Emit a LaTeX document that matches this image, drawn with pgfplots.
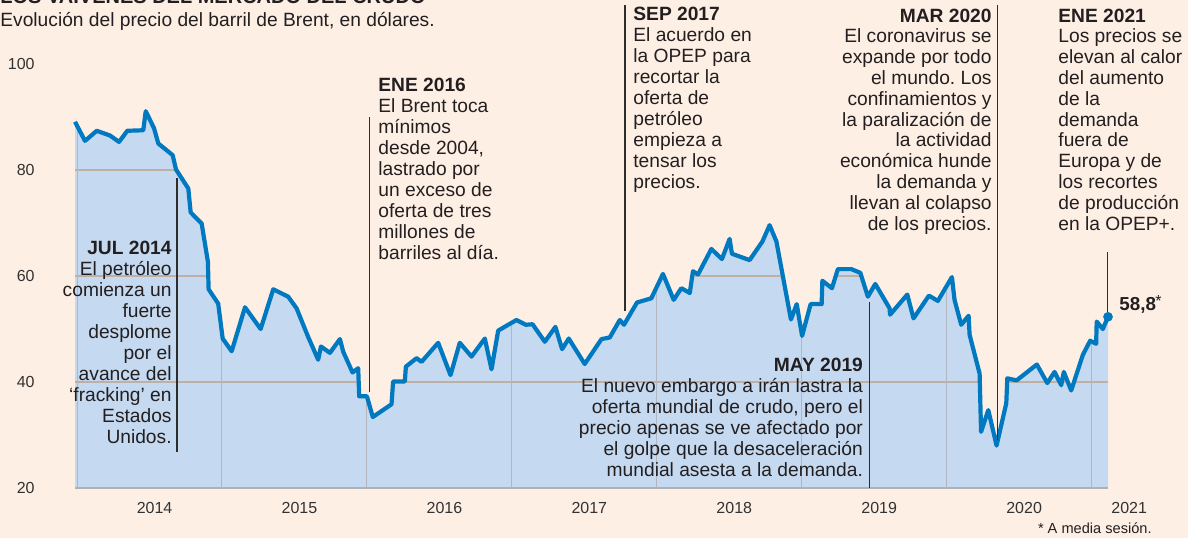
\documentclass[border=0pt]{standalone}
\usepackage{fontspec}
\setmainfont{Liberation Sans}
\usepackage{pgfplots}
\usepackage{pgfplotstable}
\pgfplotsset{compat=1.18}
\frenchspacing
\definecolor{bg}{RGB}{254,239,229}
\definecolor{areac}{RGB}{197,217,240}
\definecolor{curvec}{RGB}{0,121,193}
\definecolor{txt}{RGB}{35,31,32}
\definecolor{ticktxt}{RGB}{50,50,50}
\definecolor{hgrid}{RGB}{192,176,164}
\definecolor{vgrid}{RGB}{178,182,192}
\definecolor{axisgray}{RGB}{175,175,180}
\definecolor{annline}{RGB}{45,45,45}

\pgfplotstableread{
x y
2013.986 89.1
2014.055 85.5
2014.136 87.4
2014.228 86.5
2014.290 85.3
2014.347 87.4
2014.457 87.5
2014.474 91.1
2014.531 87.9
2014.561 85.0
2014.660 82.8
2014.683 80.1
2014.768 76.5
2014.784 72.0
2014.860 69.9
2014.903 62.7
2014.908 57.5
2014.974 54.8
2015.005 48.2
2015.067 45.8
2015.159 54.1
2015.267 50.0
2015.354 57.5
2015.457 56.1
2015.515 53.9
2015.595 48.5
2015.664 44.2
2015.683 46.7
2015.745 45.5
2015.814 48.1
2015.837 45.7
2015.901 41.8
2015.940 42.6
2015.947 37.3
2016.000 37.3
2016.041 33.4
2016.170 35.8
2016.181 40.1
2016.262 40.1
2016.269 42.9
2016.343 44.5
2016.377 43.8
2016.492 47.4
2016.577 41.3
2016.641 47.4
2016.722 44.8
2016.814 48.2
2016.860 42.4
2016.906 49.7
2017.032 51.7
2017.097 50.8
2017.143 50.9
2017.228 47.6
2017.301 50.4
2017.347 46.2
2017.393 48.2
2017.503 43.4
2017.619 48.1
2017.676 48.4
2017.745 51.7
2017.774 50.8
2017.864 55.0
2017.963 55.8
2018.043 60.4
2018.117 55.5
2018.170 57.7
2018.228 56.8
2018.250 60.9
2018.285 60.3
2018.377 65.1
2018.450 63.2
2018.503 67.0
2018.519 64.2
2018.641 63.0
2018.729 66.5
2018.779 69.6
2018.826 66.5
2018.926 51.8
2018.966 54.7
2019.003 48.7
2019.062 54.7
2019.138 54.7
2019.143 59.1
2019.209 57.7
2019.250 61.3
2019.343 61.3
2019.405 60.6
2019.457 56.1
2019.508 58.5
2019.607 53.9
2019.610 52.7
2019.729 56.5
2019.772 52.0
2019.878 56.3
2019.940 55.3
2020.037 59.8
2020.055 55.5
2020.101 50.8
2020.152 52.5
2020.159 48.9
2020.228 41.6
2020.238 30.6
2020.288 34.7
2020.345 28.0
2020.412 36.0
2020.419 40.7
2020.483 40.3
2020.623 43.3
2020.695 39.8
2020.745 41.9
2020.791 39.4
2020.809 41.9
2020.860 38.4
2020.940 45.1
2020.991 47.8
2021.032 47.2
2021.036 51.4
2021.078 50.0
2021.114 52.3
}\brent

\begin{document}
\begin{tikzpicture}[font=\fontsize{9.6}{10.5}\selectfont]
\fill[bg] (0,0) rectangle (594pt,269pt);
\useasboundingbox (0,0) rectangle (594pt,269pt);
\begin{axis}[
  scale only axis, width=516.5pt, height=212pt,
  at={(37.5pt,25pt)}, anchor=south west,
  xmin=2013.986, xmax=2021.114, ymin=20, ymax=100,
  clip=false,
  axis line style={draw=none},
  tick style={draw=none},
  major tick length=0pt, minor tick length=0pt,
  xtick={2014.535,2015.535,2016.535,2017.535,2018.535,2019.535,2020.535},
  xticklabels={2014,2015,2016,2017,2018,2019,2020},
  ytick={20,40,60,80,100},
  yticklabels={20,40,60,80,100},
  xticklabel style={font=\fontsize{8}{8}\selectfont, text=ticktxt, anchor=north, inner sep=0pt, yshift=-7pt},
  yticklabel style={font=\fontsize{8}{8}\selectfont, text=ticktxt, anchor=east, inner sep=0pt, xshift=-20pt},
]
% blue area
\addplot[fill=areac, draw=none] table[x=x,y=y]{\brent} -- (axis cs:2021.114,20) -- (axis cs:2013.986,20) -- cycle;
% grid
\draw[hgrid, line width=0.6pt] (axis cs:2013.986,40) -- (axis cs:2021.114,40);
\draw[hgrid, line width=0.6pt] (axis cs:2013.986,60) -- (axis cs:2021.114,60);
\draw[hgrid, line width=0.6pt] (axis cs:2013.986,80) -- (axis cs:2021.114,80);
\draw[vgrid, line width=0.5pt] (axis cs:2014,20) -- (axis cs:2014,99);
\draw[vgrid, line width=0.5pt] (axis cs:2015,20) -- (axis cs:2015,99);
\draw[vgrid, line width=0.5pt] (axis cs:2016,20) -- (axis cs:2016,99);
\draw[vgrid, line width=0.5pt] (axis cs:2017,20) -- (axis cs:2017,99);
\draw[vgrid, line width=0.5pt] (axis cs:2018,20) -- (axis cs:2018,99);
\draw[vgrid, line width=0.5pt] (axis cs:2019,20) -- (axis cs:2019,99);
\draw[vgrid, line width=0.5pt] (axis cs:2020,20) -- (axis cs:2020,99);
\draw[vgrid, line width=0.5pt] (axis cs:2021,20) -- (axis cs:2021,99);
% hide grid above the curve
\addplot[fill=bg, draw=none] table[x=x,y=y]{\brent} -- (axis cs:2021.114,100) -- (axis cs:2013.986,100) -- cycle;
% bottom axis line
\draw[axisgray, line width=0.8pt] (axis cs:2013.986,20) -- (axis cs:2021.114,20);
% curve
\addplot[curvec, line width=2.1pt, line join=round] table[x=x,y=y]{\brent};
\addplot[only marks, mark=*, mark size=2.2pt, curvec] coordinates {(2021.114,52.3)};
\node[font=\fontsize{8}{8}\selectfont, text=ticktxt, anchor=north, inner sep=0pt, yshift=-7pt] at (axis cs:2021.26,20) {2021};
\end{axis}

\begin{scope}[x=0.5pt, y=-0.5pt, shift={(0pt,269pt)}]
% title and subtitle
\node[anchor=base west, inner sep=0pt, text=txt, font=\fontsize{10}{10}\selectfont\bfseries] at (0,3) {LOS VAIVENES DEL MERCADO DEL CRUDO};
\node[anchor=base west, inner sep=0pt, text=txt] at (0,26) {Evolución del precio del barril de Brent, en dólares.};
% annotation lines
\draw[annline, line width=0.7pt] (177,177.5) -- (177,452);
\draw[annline, line width=0.7pt] (369.5,117) -- (369.5,392);
\draw[annline, line width=0.7pt] (625,5) -- (625,311);
\draw[annline, line width=0.7pt] (869.5,302) -- (869.5,488);
\draw[annline, line width=0.7pt] (997.5,5) -- (997.5,440);
\draw[annline, line width=0.7pt] (1107.5,252) -- (1107.5,312);
% annotation texts (base anchor = baseline of last line)
\node[anchor=base east, align=right, inner sep=0pt, text=txt] at (172,443) {\textbf{JUL 2014}\\El petróleo\\comienza un\\fuerte\\desplome\\por el\\avance del\\‘fracking’ en\\Estados\\Unidos.};
\node[anchor=base west, align=left, inner sep=0pt, text=txt] at (378,259) {\textbf{ENE 2016}\\El Brent toca\\mínimos\\desde 2004,\\lastrado por\\un exceso de\\oferta de tres\\millones de\\barriles al día.};
\node[anchor=base west, align=left, inner sep=0pt, text=txt] at (633,188.5) {\textbf{SEP 2017}\\El acuerdo en\\la OPEP para\\recortar la\\oferta de\\petróleo\\empieza a\\tensar los\\precios.};
\node[anchor=base east, align=right, inner sep=0pt, text=txt] at (863.3,476) {\textbf{MAY 2019}\\El nuevo embargo a irán lastra la\\oferta mundial de crudo, pero el\\precio apenas se ve afectado por\\el golpe que la desaceleración\\mundial asesta a la demanda.};
\node[anchor=base east, align=right, inner sep=0pt, text=txt, font=\fontsize{9.6}{10.4}\selectfont] at (992,230) {\textbf{MAR 2020}\\El coronavirus se\\expande por todo\\el mundo. Los\\confinamientos y\\la paralización de\\la actividad\\económica hunde\\la demanda y\\llevan al colapso\\de los precios.};
\node[anchor=base west, align=left, inner sep=0pt, text=txt, font=\fontsize{9.6}{10.4}\selectfont] at (1058,230) {\textbf{ENE 2021}\\Los precios se\\elevan al calor\\del aumento\\de la\\demanda\\fuera de\\Europa y de\\los recortes\\de producción\\en la OPEP+.};
% last value
\node[anchor=base west, inner sep=0pt, text=txt, font=\fontsize{9.4}{9.4}\selectfont\bfseries] at (1119,310) {58,8};
\node[anchor=base west, inner sep=0pt, text=txt, font=\fontsize{8}{8}\selectfont] at (1155,306) {*};
\node[anchor=base east, inner sep=0pt, text=txt, font=\fontsize{7.3}{7.3}\selectfont] at (1152,533) {* A media sesión.};
\end{scope}
\end{tikzpicture}
\end{document}
